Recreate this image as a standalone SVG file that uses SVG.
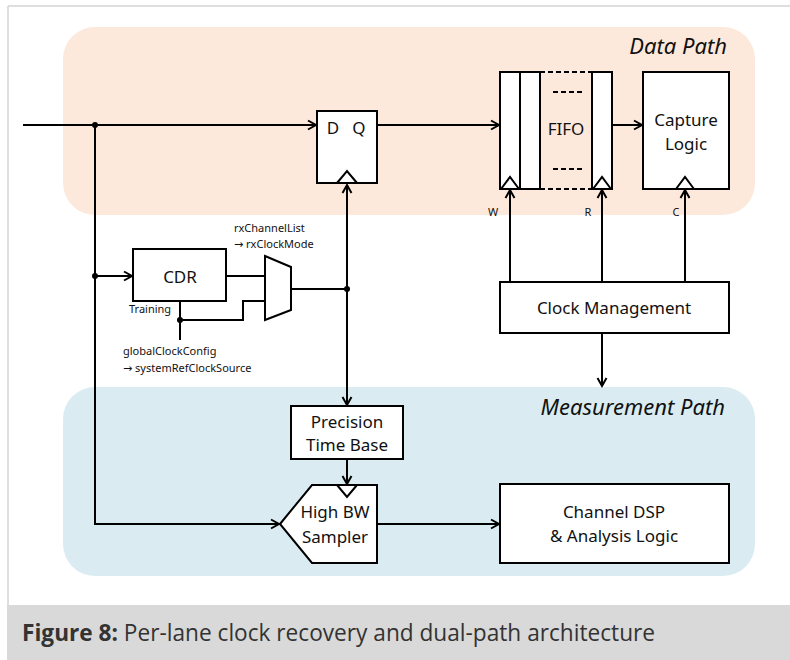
<svg xmlns="http://www.w3.org/2000/svg" width="790" height="660" viewBox="0 0 790 660">
<style>
.blk{fill:#fff;stroke:#000;stroke-width:2}
.ln{fill:none;stroke:#000;stroke-width:2}
.t{font-family:"Noto Sans","Open Sans",sans-serif;font-size:17px;fill:#111;text-anchor:middle}
.s{font-family:"Noto Sans","Open Sans",sans-serif;font-size:11px;fill:#111}
.ar{font-family:"DejaVu Sans",sans-serif;font-size:11px}
.h{font-family:"Noto Sans","Open Sans",sans-serif;font-size:22px;font-style:italic;fill:#111;text-anchor:end}
.dot{fill:#000}
</style>
<defs>
<marker id="arr" markerUnits="userSpaceOnUse" markerWidth="12" markerHeight="12" refX="9" refY="5" orient="auto-start-reverse" viewBox="0 0 12 10">
<path d="M1,0.5 L9,5 L1,9.5" fill="none" stroke="#000" stroke-width="2"/>
</marker>
</defs>
<rect x="0" y="0" width="790" height="660" fill="#fff"/>
<g id="frame">
<path d="M8,6 H790 M8,6 V605" fill="none" stroke="#d4d4d4" stroke-width="1.5"/>
<rect x="7" y="605" width="783" height="55" fill="#d9d9d9"/>
<text x="22" y="641" font-family="'Open Sans','Noto Sans',sans-serif" font-size="23" fill="#333" textLength="633" lengthAdjust="spacingAndGlyphs"><tspan font-weight="bold">Figure 8:</tspan> Per-lane clock recovery and dual-path architecture</text>
</g>
<g id="data-path-region">
<rect x="63" y="27" width="692" height="188" rx="32" fill="#fde9db"/>
<text class="h" x="727" y="54">Data Path</text>
</g>
<g id="measurement-path-region">
<rect x="63" y="387" width="692" height="189" rx="32" fill="#daecf2"/>
<text class="h" x="725" y="415">Measurement Path</text>
</g>
<g id="connectors">
<path class="ln" d="M23,125 H316" marker-end="url(#arr)"/>
<path class="ln" d="M377,125 H499" marker-end="url(#arr)"/>
<path class="ln" d="M612,125 H642" marker-end="url(#arr)"/>
<path class="ln" d="M95,125 V524 H279" marker-end="url(#arr)"/>
<path class="ln" d="M95,276 H132" marker-end="url(#arr)"/>
<path class="ln" d="M226,276 H265"/>
<path class="ln" d="M180,301 V340"/>
<path class="ln" d="M180,320 H243 V301 H265"/>
<path class="ln" d="M291,289 H347"/>
<path class="ln" d="M347,185 V405" marker-start="url(#arr)" marker-end="url(#arr)"/>
<path class="ln" d="M347,459 V484" marker-end="url(#arr)"/>
<path class="ln" d="M377,524 H499" marker-end="url(#arr)"/>
<path class="ln" d="M510,282 V190" marker-end="url(#arr)"/>
<path class="ln" d="M602,282 V190" marker-end="url(#arr)"/>
<path class="ln" d="M685,282 V190" marker-end="url(#arr)"/>
<path class="ln" d="M602,333 V386" marker-end="url(#arr)"/>
<circle class="dot" cx="95" cy="125" r="3"/>
<circle class="dot" cx="95" cy="276" r="3"/>
<circle class="dot" cx="180" cy="320" r="3"/>
<circle class="dot" cx="347" cy="289" r="3"/>
</g>
<g id="dff">
<rect class="blk" x="317" y="111" width="60" height="72"/>
<polyline class="ln" points="337,183 347,171 357,183"/>
<text class="t" x="333" y="134" font-size="16">D</text>
<text class="t" x="359" y="134" font-size="16">Q</text>
</g>
<g id="fifo">
<rect class="blk" x="500" y="72" width="20" height="117"/>
<rect class="blk" x="520" y="72" width="20" height="117"/>
<rect class="blk" x="592" y="72" width="20" height="117"/>
<path d="M540,72 H592 M540,189 H592" fill="none" stroke="#000" stroke-width="2" stroke-dasharray="5,3"/>
<path d="M553,92 H584 M553,169 H584" fill="none" stroke="#000" stroke-width="2" stroke-dasharray="5,3"/>
<polyline class="ln" points="501,189 510,177 519,189"/>
<polyline class="ln" points="593,189 602,177 611,189"/>
<text class="t" x="566" y="135">FIFO</text>
<text class="s" x="493" y="216" text-anchor="middle">W</text>
<text class="s" x="588" y="216" text-anchor="middle">R</text>
</g>
<g id="capture-logic">
<rect class="blk" x="643" y="72" width="86" height="117"/>
<polyline class="ln" points="676,189 685,177 694,189"/>
<text class="t" x="686" y="126">Capture</text>
<text class="t" x="686" y="150">Logic</text>
<text class="s" x="676" y="216" text-anchor="middle">C</text>
</g>
<g id="cdr">
<rect class="blk" x="133" y="249" width="93" height="52"/>
<text class="t" x="180" y="283" font-size="19">CDR</text>
<text class="s" x="129" y="313">Training</text>
<text class="s" x="123" y="355">globalClockConfig</text>
<text class="s" x="123" y="372"><tspan class="ar">→</tspan> systemRefClockSource</text>
</g>
<g id="mux">
<polygon class="blk" points="265,256 291,267 291,310 265,320"/>
<text class="s" x="234" y="232">rxChannelList</text>
<text class="s" x="234" y="248"><tspan class="ar">→</tspan> rxClockMode</text>
</g>
<g id="clock-management">
<rect class="blk" x="500" y="282" width="229" height="51"/>
<text class="t" x="614" y="314">Clock Management</text>
</g>
<g id="precision-time-base">
<rect class="blk" x="291" y="406" width="112" height="53"/>
<text class="t" x="347" y="428">Precision</text>
<text class="t" x="347" y="451">Time Base</text>
</g>
<g id="sampler">
<polygon class="blk" points="280,524 312,485 377,485 377,563 312,563"/>
<polyline class="ln" points="337,485 347,497 357,485"/>
<text class="t" x="335" y="518" font-size="15.5">High BW</text>
<text class="t" x="335" y="543" font-size="15.5">Sampler</text>
</g>
<g id="channel-dsp">
<rect class="blk" x="500" y="484" width="229" height="79"/>
<text class="t" x="614" y="518">Channel DSP</text>
<text class="t" x="614" y="542">&amp; Analysis Logic</text>
</g>
</svg>
